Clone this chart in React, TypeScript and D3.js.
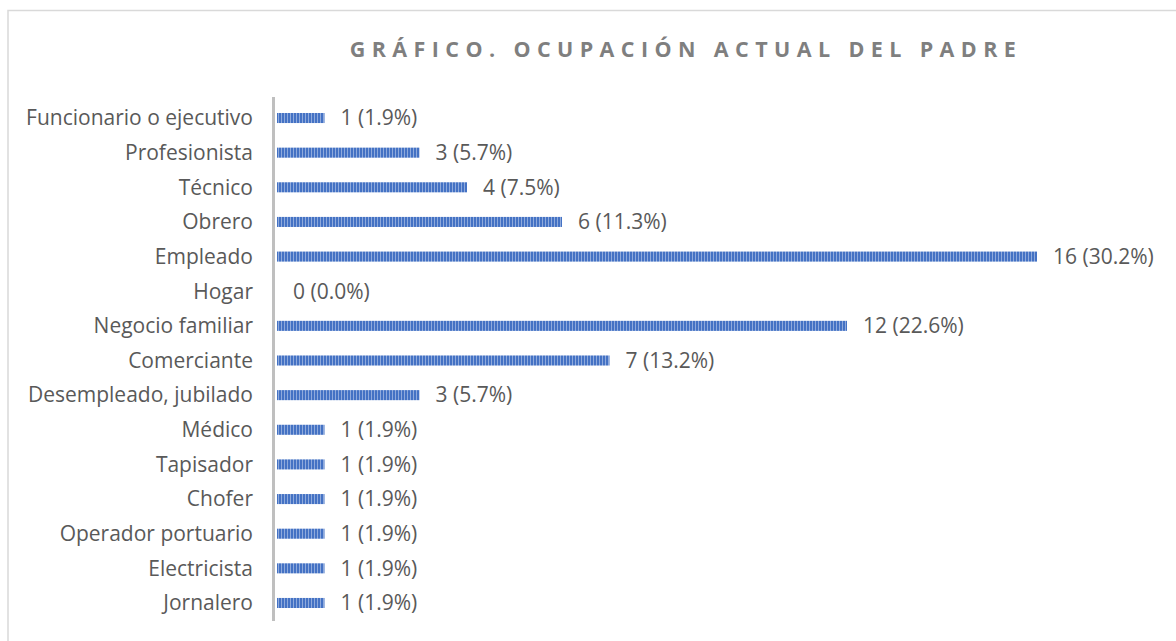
import React from "react";
import * as d3 from "d3";

const categories = [
  "Funcionario o ejecutivo",
  "Profesionista",
  "Técnico",
  "Obrero",
  "Empleado",
  "Hogar",
  "Negocio familiar",
  "Comerciante",
  "Desempleado, jubilado",
  "Médico",
  "Tapisador",
  "Chofer",
  "Operador portuario",
  "Electricista",
  "Jornalero",
];
const counts = [1, 3, 4, 6, 16, 0, 12, 7, 3, 1, 1, 1, 1, 1, 1];
const percents = ["1.9%", "5.7%", "7.5%", "11.3%", "30.2%", "0.0%", "22.6%", "13.2%", "5.7%", "1.9%", "1.9%", "1.9%", "1.9%", "1.9%", "1.9%"];
const title = "GRÁFICO. OCUPACIÓN ACTUAL DEL PADRE";

const W = 1176;
const H = 641;
const FONT = "'Open Sans', 'Liberation Sans', sans-serif";

export default function App() {
  const x = d3.scaleLinear().domain([0, 16]).range([277, 1037]);
  const y = d3.scaleBand<string>().domain(categories).range([100.7, 620.3]).paddingInner(0.71).paddingOuter(0.355);
  const bh = y.bandwidth();
  return (
    <svg width={W} height={H} style={{ position: "absolute", left: 0, top: 0 }}>
      <defs>
        <pattern id="stripes" width={3} height={10} patternUnits="userSpaceOnUse">
          <rect x={0} y={0} width={3} height={10} fill="#8FAADC" />
          <rect x={0} y={0} width={2} height={10} fill="#4472C4" />
        </pattern>
      </defs>
      <rect x={0} y={0} width={W} height={H} fill="#fff" />
      <rect x={8} y={10.5} width={W + 10} height={H} fill="none" stroke="#D9D9D9" strokeWidth={1.5} />
      <text
        x={686}
        y={57}
        textAnchor="middle"
        fontFamily={FONT}
        fontWeight={700}
        fontSize={21.5}
        letterSpacing={6.4}
        fill="#7F7F7F"
      >
        {title}
      </text>
      {categories.map((c, i) => {
        const yc = (y(c) as number) + bh / 2;
        return (
          <g key={c}>
            <text x={253} y={yc} dy="0.35em" textAnchor="end" fontFamily={FONT} fontSize={21} fill="#595959">
              {c}
            </text>
            {counts[i] > 0 && (
              <rect x={x(0)} y={y(c)} width={x(counts[i]) - x(0)} height={bh} fill="url(#stripes)" />
            )}
            <text x={x(counts[i]) + 16} y={yc} dy="0.35em" fontFamily={FONT} fontSize={21} fill="#595959">
              {`${counts[i]} (${percents[i]})`}
            </text>
          </g>
        );
      })}
      <line x1={273.5} x2={273.5} y1={97} y2={621} stroke="#BFBFBF" strokeWidth={3} />
    </svg>
  );
}
